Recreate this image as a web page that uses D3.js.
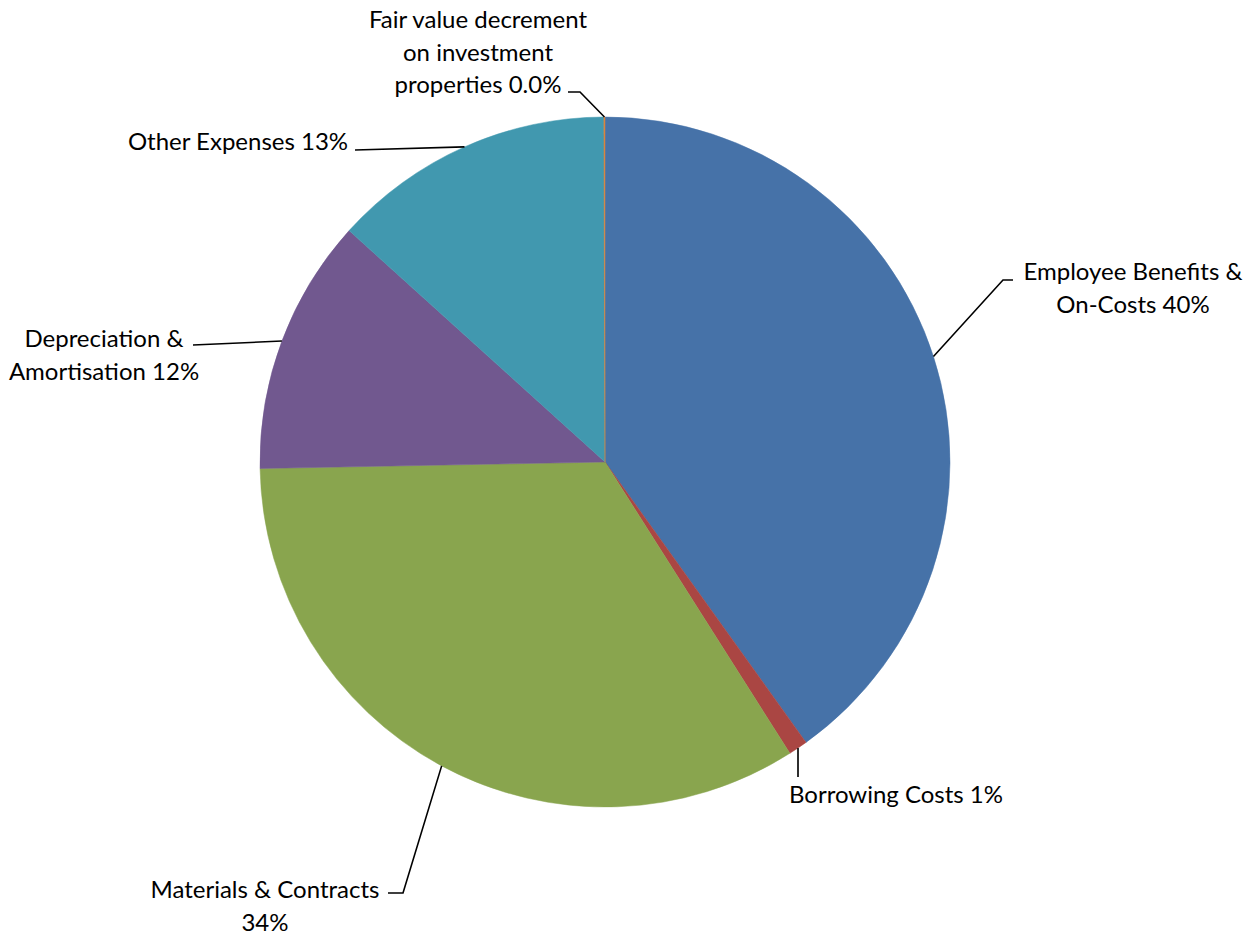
<!DOCTYPE html>
<html>
<head>
<meta charset="utf-8">
<script src="https://cdn.jsdelivr.net/npm/d3@7"></script>
<style>
  html, body { margin: 0; padding: 0; background: #ffffff; }
  svg text { font-family: Lato, "Open Sans", sans-serif; fill: #000; }
</style>
</head>
<body>
<svg id="chart" width="1258" height="934"></svg>
<script>
// ---- data ----
const categories = [
  "Employee Benefits & On-Costs",
  "Borrowing Costs",
  "Materials & Contracts",
  "Depreciation & Amortisation",
  "Other Expenses",
  "Fair value decrement on investment properties"
];
const values = [40.1, 0.9, 33.7, 12.0, 13.25, 0.05];
const labelLines = [
  ["Employee Benefits &", "On-Costs 40%"],
  ["Borrowing Costs 1%"],
  ["Materials & Contracts", "34%"],
  ["Depreciation &", "Amortisation 12%"],
  ["Other Expenses 13%"],
  ["Fair value decrement", "on investment", "properties 0.0%"]
];
const colors = ["#4672A8", "#AA4643", "#89A54E", "#71588F", "#4198AF", "#DB843D"];

// ---- layout (label placement) ----
const cx = 605, cy = 462, R = 345;
const fontSize = 24, lineH = 32.5;
// text centre x, first baseline y, leader elbow points
const labelLayout = [
  { x: 1133, y: 280, elbow: [[1003, 280], [1013, 280]] },
  { x: 896,  y: 803, elbow: [[798, 777]] },
  { x: 265,  y: 898, elbow: [[403, 893], [388, 893]] },
  { x: 104,  y: 347, elbow: [[193, 345]] },
  { x: 238,  y: 150, elbow: [[355, 150]] },
  { x: 478,  y: 28,  elbow: [[580, 92], [568, 92]] }
];

const svg = d3.select("#chart");
const g = svg.append("g").attr("transform", `translate(${cx},${cy})`);

const pie = d3.pie().sort(null).value(d => d).startAngle(0).endAngle(2 * Math.PI);
const arcs = pie(values);
const arc = d3.arc().innerRadius(0).outerRadius(R);

g.selectAll("path.slice")
  .data(arcs)
  .join("path")
  .attr("class", "slice")
  .attr("d", arc)
  .attr("fill", (d, i) => colors[i])
  .attr("stroke", (d, i) => colors[i])
  .attr("stroke-width", 0.5);

// leader lines: start on the outer edge at slice mid-angle
const lines = svg.append("g");
arcs.forEach((a, i) => {
  const mid = (a.startAngle + a.endAngle) / 2;
  const p0 = [cx + R * Math.sin(mid), cy - R * Math.cos(mid)];
  const pts = [p0].concat(labelLayout[i].elbow);
  lines.append("path")
    .attr("d", d3.line()(pts))
    .attr("fill", "none")
    .attr("stroke", "#000")
    .attr("stroke-width", 1.6);
});

// labels
const labels = svg.append("g");
labelLines.forEach((ls, i) => {
  const t = labels.append("text")
    .attr("text-anchor", "middle")
    .attr("font-size", fontSize);
  ls.forEach((s, j) => {
    t.append("tspan")
      .attr("x", labelLayout[i].x)
      .attr("y", labelLayout[i].y + j * lineH)
      .text(s);
  });
});
</script>
</body>
</html>
